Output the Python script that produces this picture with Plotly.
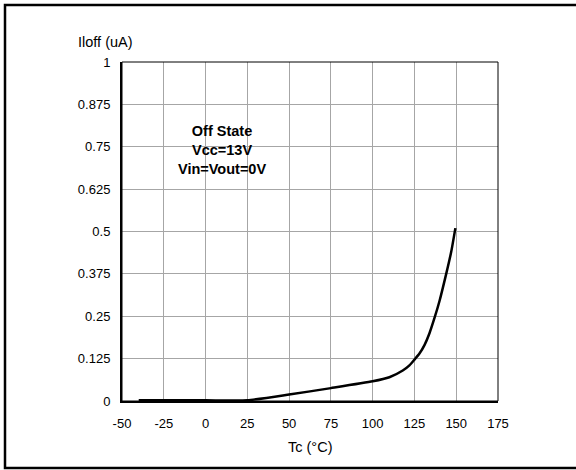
import plotly.graph_objects as go

# Data
tc = [-40, 0, 25, 50, 75, 100, 110, 118, 122, 125, 128, 131, 134, 137, 140, 144, 147, 149.5]
iloff = [0.002, 0.002, 0.002, 0.019, 0.038, 0.058, 0.070, 0.090, 0.105, 0.122, 0.140,
         0.165, 0.200, 0.245, 0.295, 0.375, 0.440, 0.510]

x_ticks = [-50, -25, 0, 25, 50, 75, 100, 125, 150, 175]
y_ticks = [0, 0.125, 0.25, 0.375, 0.5, 0.625, 0.75, 0.875, 1]
y_tick_text = ["0", "0.125", "0.25", "0.375", "0.5", "0.625", "0.75", "0.875", "1"]

FONT = "Liberation Sans, Arial, sans-serif"

fig = go.Figure()
fig.add_trace(go.Scatter(x=tc, y=iloff, mode="lines",
                         line=dict(color="black", width=2.5, shape="spline", smoothing=0.5),
                         showlegend=False, hoverinfo="skip"))

L, R, T, B = 122, 78, 62, 69
W, H = 576, 470
pw, ph = W - L - R, H - T - B

fig.update_layout(
    width=W, height=H,
    margin=dict(l=L, r=R, t=T, b=B),
    paper_bgcolor="white", plot_bgcolor="white",
    font=dict(family=FONT, size=13, color="black"),
    xaxis=dict(range=[-50, 175], tickvals=x_ticks, ticktext=[str(v) for v in x_ticks],
               showgrid=True, gridcolor="#a6a6a6", gridwidth=1,
               showline=True, linecolor="black", linewidth=2,
               zeroline=False, ticks="", ticklabelstandoff=9,
               tickfont=dict(family=FONT, size=13)),
    yaxis=dict(range=[0, 1], tickvals=y_ticks, ticktext=y_tick_text,
               showgrid=True, gridcolor="#a6a6a6", gridwidth=1,
               showline=True, linecolor="black", linewidth=2,
               zeroline=False, ticks="", ticklabelstandoff=7,
               tickfont=dict(family=FONT, size=13)),
    shapes=[
        dict(type="rect", xref="paper", yref="paper", x0=0, x1=1, y0=0, y1=1,
             line=dict(color="black", width=1), layer="above"),
        dict(type="rect", xref="paper", yref="paper",
             x0=(5 - L) / pw, x1=(W + 3 - L) / pw,
             y0=(H - B - 468) / ph, y1=(H - B - 5) / ph,
             line=dict(color="black", width=2.5), layer="above"),
    ],
    annotations=[
        dict(text="<b>Off State</b><br><b>Vcc=13V</b><br><b>Vin=Vout=0V</b>",
             x=10, y=0.74, xref="x", yref="y", xanchor="center", yanchor="middle",
             showarrow=False, font=dict(family=FONT, size=14.5, color="black"),
             align="center"),
        dict(text="Iloff (uA)", x=(105 - L) / pw, y=(H - B - 42) / ph,
             xref="paper", yref="paper", xanchor="center", yanchor="middle",
             showarrow=False, font=dict(family=FONT, size=14.5)),
        dict(text="Tc (°C)", x=(310 - L) / pw, y=(H - B - 447) / ph,
             xref="paper", yref="paper", xanchor="center", yanchor="middle",
             showarrow=False, font=dict(family=FONT, size=14.5)),
    ],
)

fig.write_html("out.html")
